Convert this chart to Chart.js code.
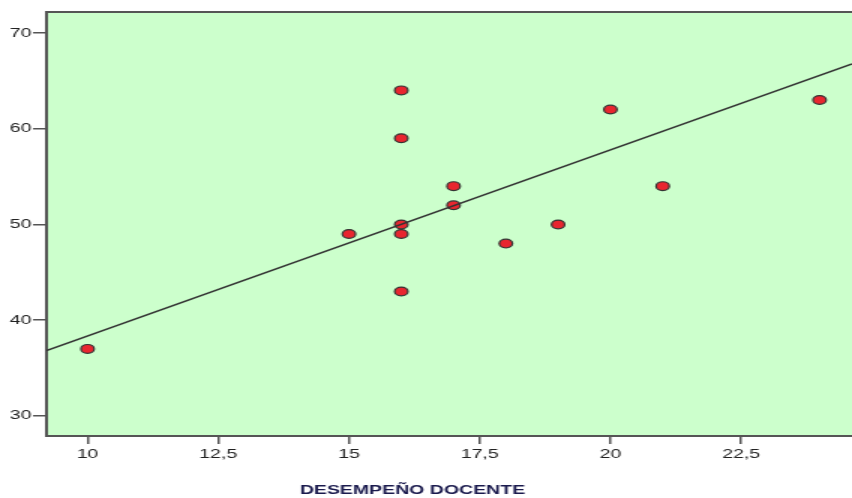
<!DOCTYPE html>
<html>
<head>
<meta charset="utf-8">
<script src="https://cdn.jsdelivr.net/npm/chart.js@4.4.0/dist/chart.umd.min.js"></script>
<style>
  html, body { margin: 0; padding: 0; background: #fff; overflow: hidden; }
  /* la imagen original está estirada en horizontal, así que escalamos el lienzo */
  #wrap { position: absolute; left: 0; top: 0; width: 568px; height: 498px;
          transform: scaleX(1.5); transform-origin: 0 0; }
</style>
</head>
<body>
<div id="wrap"><canvas id="scatterChart" width="568" height="498"></canvas></div>
<script>
// ── Datos ──
const xTicks = [10, 12.5, 15, 17.5, 20, 22.5];
const yTicks = [30, 40, 50, 60, 70];
const desempeno = [10, 15, 16, 16, 16, 16, 16, 17, 17, 18, 19, 20, 21, 24];
const puntaje = [37, 49, 64, 59, 50, 49, 43, 54, 52, 48, 50, 62, 54, 63];
// recta de ajuste (extremos)
const ajusteX = [9.215, 24.62];
const ajusteY = [36.82, 66.77];
const xTitulo = "DESEMPEÑO DOCENTE";

const fondoYBorde = {
    id: "fondoYBorde",
    beforeDatasetsDraw(chart) {
        const { ctx, chartArea: a } = chart;
        ctx.save();
        ctx.fillStyle = "#ccffcc";
        ctx.fillRect(a.left, a.top, a.right - a.left, a.bottom - a.top);
        ctx.strokeStyle = "#555";
        ctx.lineWidth = 2;
        ctx.strokeRect(a.left, a.top, a.right - a.left + 2, a.bottom - a.top);
        ctx.restore();
    },
    afterDraw(chart) {
        const { ctx } = chart;
        ctx.save();
        ctx.font = "bold 13px 'Liberation Sans', Arial, sans-serif";
        ctx.fillStyle = "#1a1a4d";
        ctx.textAlign = "center";
        ctx.textBaseline = "middle";
        ctx.fillText(xTitulo, 275, 490);
        ctx.restore();
    }
};

document.addEventListener("DOMContentLoaded", () => {
    const ctx = document.getElementById("scatterChart").getContext("2d");
    const fmt = v => String(v).replace(".", ",");

    new Chart(ctx, {
        type: "scatter",
        data: {
            datasets: [
                {
                    type: "line",
                    data: ajusteX.map((x, i) => ({ x, y: ajusteY[i] })),
                    borderColor: "#333",
                    borderWidth: 1.5,
                    pointRadius: 0,
                    fill: false
                },
                {
                    data: desempeno.map((x, i) => ({ x, y: puntaje[i] })),
                    backgroundColor: "#e8262f",
                    borderColor: "#333",
                    borderWidth: 1.2,
                    pointRadius: 4.4
                }
            ]
        },
        options: {
            responsive: false,
            animation: false,
            layout: { autoPadding: false, padding: { top: 12, right: 0, left: 0, bottom: 0 } },
            plugins: { legend: { display: false }, tooltip: { enabled: false } },
            scales: {
                x: {
                    type: "linear",
                    min: 9.215,
                    max: 24.62,
                    afterFit: s => { s.height = 62; s.paddingRight = 0; s.paddingLeft = 0; },
                    afterBuildTicks: s => { s.ticks = xTicks.map(v => ({ value: v })); },
                    border: { display: false },
                    grid: { drawOnChartArea: false, color: "#555", lineWidth: 1.5, tickLength: 8 },
                    ticks: {
                        padding: 3,
                        color: "#222",
                        font: { family: "'Liberation Sans', Arial, sans-serif", size: 13 },
                        callback: v => fmt(v)
                    }
                },
                y: {
                    min: 27.9,
                    max: 72.19,
                    afterFit: s => { s.width = 31; s.paddingTop = 0; s.paddingBottom = 0; },
                    afterBuildTicks: s => { s.ticks = yTicks.map(v => ({ value: v })); },
                    border: { display: false },
                    grid: { drawOnChartArea: false, color: "#555", lineWidth: 1.5, tickLength: 9 },
                    ticks: {
                        padding: 1,
                        color: "#222",
                        font: { family: "'Liberation Sans', Arial, sans-serif", size: 13 },
                        callback: v => fmt(v)
                    }
                }
            }
        },
        plugins: [fondoYBorde]
    });
});
</script>
</body>
</html>
